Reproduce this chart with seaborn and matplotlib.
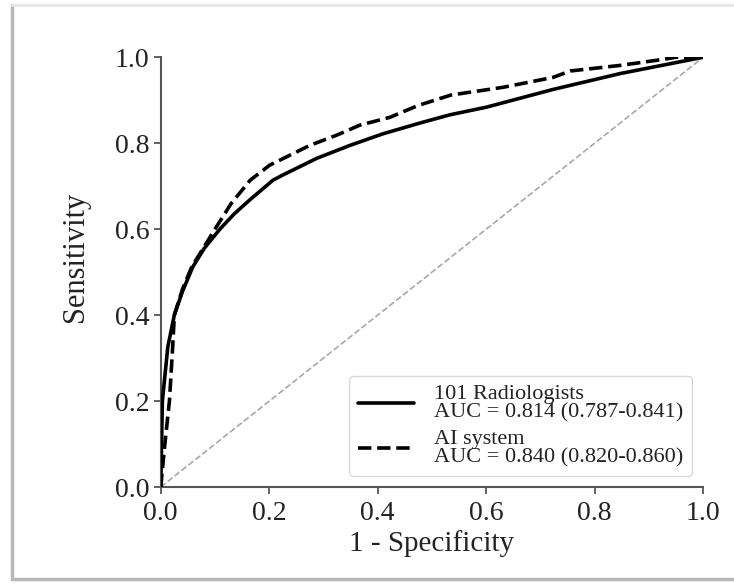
import seaborn as sns
import matplotlib.pyplot as plt
import pandas as pd
from matplotlib.lines import Line2D

# ROC points
rad_fpr = [0.0, 0.003, 0.013, 0.025, 0.040, 0.059, 0.080, 0.109, 0.135, 0.164, 0.207, 0.225,
           0.288, 0.349, 0.410, 0.478, 0.533, 0.601, 0.723, 0.847, 1.0]
rad_tpr = [0.0, 0.200, 0.326, 0.400, 0.455, 0.512, 0.555, 0.600, 0.635, 0.668, 0.714, 0.726,
           0.765, 0.795, 0.822, 0.847, 0.866, 0.884, 0.925, 0.962, 1.0]

ai_fpr = [0.0, 0.007, 0.016, 0.022, 0.025, 0.040, 0.057, 0.100, 0.130, 0.165, 0.201, 0.238,
          0.275, 0.325, 0.367, 0.422, 0.475, 0.535, 0.631, 0.723, 0.755, 0.847, 0.926, 0.950, 1.0]
ai_tpr = [0.0, 0.093, 0.200, 0.326, 0.400, 0.460, 0.512, 0.600, 0.660, 0.714, 0.749, 0.772,
          0.795, 0.819, 0.842, 0.860, 0.888, 0.912, 0.930, 0.953, 0.968, 0.981, 0.995, 1.0, 1.0]

labels = ['101 Radiologists\nAUC = 0.814 (0.787-0.841)',
          'AI system\nAUC = 0.840 (0.820-0.860)']
ticks = [0.0, 0.2, 0.4, 0.6, 0.8, 1.0]

rad_df = pd.DataFrame({'fpr': rad_fpr, 'tpr': rad_tpr})
ai_df = pd.DataFrame({'fpr': ai_fpr, 'tpr': ai_tpr})

sns.set_style('ticks')
plt.rcParams['font.family'] = ['Liberation Serif', 'DejaVu Serif']

fig = plt.figure(figsize=(7.34, 5.84), dpi=100)
ax = fig.add_axes([0.219, 0.166, 0.739, 0.736])

# chance line
ax.plot([0, 1], [0, 1], linestyle='--', color='#a8a8a8', linewidth=1.2, zorder=1)

sns.lineplot(data=rad_df, x='fpr', y='tpr', sort=False, color='black', linewidth=2.6,
             label=labels[0], ax=ax, zorder=3)
sns.lineplot(data=ai_df, x='fpr', y='tpr', sort=False, color='black', linewidth=2.6,
             linestyle='--', label=labels[1], ax=ax, zorder=3)

ax.set_xlim(0, 1)
ax.set_ylim(0, 1)
ax.set_xticks(ticks)
ax.set_yticks(ticks)
ax.set_xticklabels([f'{t:.1f}' for t in ticks])
ax.set_yticklabels([f'{t:.1f}' for t in ticks])
ax.tick_params(labelsize=20, length=5, width=1.3, color='#555555', labelcolor='#222222')
ax.tick_params(axis='x', pad=5)
ax.tick_params(axis='y', pad=3)
ax.set_xlabel('1 - Specificity', fontsize=21, color='#222222', labelpad=3)
ax.set_ylabel('Sensitivity', fontsize=22, color='#222222')
ax.yaxis.set_label_coords(-0.13, 0.535)

sns.despine(ax=ax)
for s in ['left', 'bottom']:
    ax.spines[s].set_color('#555555')
    ax.spines[s].set_linewidth(1.5)

leg = ax.legend(loc='lower right', fontsize=16, frameon=True, handlelength=2.5,
                borderaxespad=0.5, labelspacing=0.3, handletextpad=0.9, borderpad=0.4)
leg.get_frame().set_edgecolor('#d0d0d0')
leg.get_frame().set_linewidth(1.0)
for t in leg.get_texts():
    t.set_linespacing(0.95)
    t.set_color('#222222')

# border of the screenshot
fig.add_artist(Line2D([12 / 734, 12 / 734], [5 / 584, 1 - 5 / 584], transform=fig.transFigure,
                      color='#b8b8b8', linewidth=2.5))
fig.add_artist(Line2D([12 / 734, 1], [5 / 584, 5 / 584], transform=fig.transFigure,
                      color='#b8b8b8', linewidth=2.5))
fig.add_artist(Line2D([12 / 734, 1], [1 - 5 / 584, 1 - 5 / 584], transform=fig.transFigure,
                      color='#e6e6e6', linewidth=2.0))

fig.savefig('out.png', dpi=100)
